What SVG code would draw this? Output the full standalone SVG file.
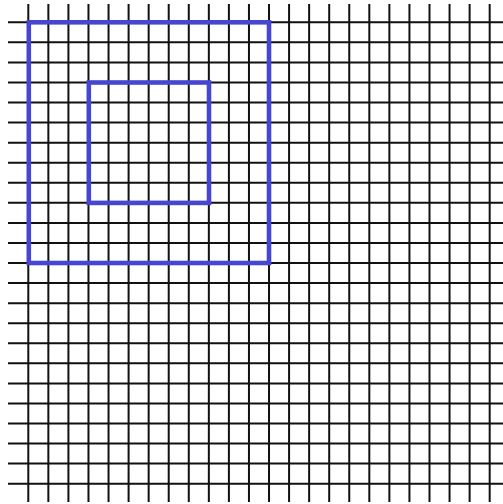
<svg xmlns="http://www.w3.org/2000/svg" width="503" height="504" viewBox="0 0 503 504">
<style>
.grid{fill:none;stroke:#111;stroke-width:2}
.box{fill:none;stroke:#4646d0;stroke-width:4.6}
</style>
<rect width="503" height="504" fill="#fff"/>
<g id="grid">
<path class="grid" d="M28.3 4V502M48.36 4V502M68.42 4V502M88.48 4V502M108.54 4V502M128.6 4V502M148.66 4V502M168.72 4V502M188.78 4V502M208.84 4V502M228.9 4V502M248.96 4V502M269.02 4V502M289.08 4V502M309.14 4V502M329.2 4V502M349.26 4V502M369.32 4V502M389.38 4V502M409.44 4V502M429.5 4V502M449.56 4V502M469.62 4V502M489.68 4V502"/>
<path class="grid" d="M8 22.3H503M8 42.36H503M8 62.42H503M8 82.48H503M8 102.54H503M8 122.6H503M8 142.66H503M8 162.72H503M8 182.78H503M8 202.84H503M8 222.9H503M8 242.96H503M8 263.02H503M8 283.08H503M8 303.14H503M8 323.2H503M8 343.26H503M8 363.32H503M8 383.38H503M8 403.44H503M8 423.5H503M8 443.56H503M8 463.62H503M8 483.68H503"/>
</g>
<g id="outer">
<rect class="box" x="28.8" y="22.3" width="240.2" height="240.7"/>
</g>
<g id="inner">
<rect class="box" x="88.8" y="82.5" width="120.2" height="120.4"/>
</g>
</svg>
